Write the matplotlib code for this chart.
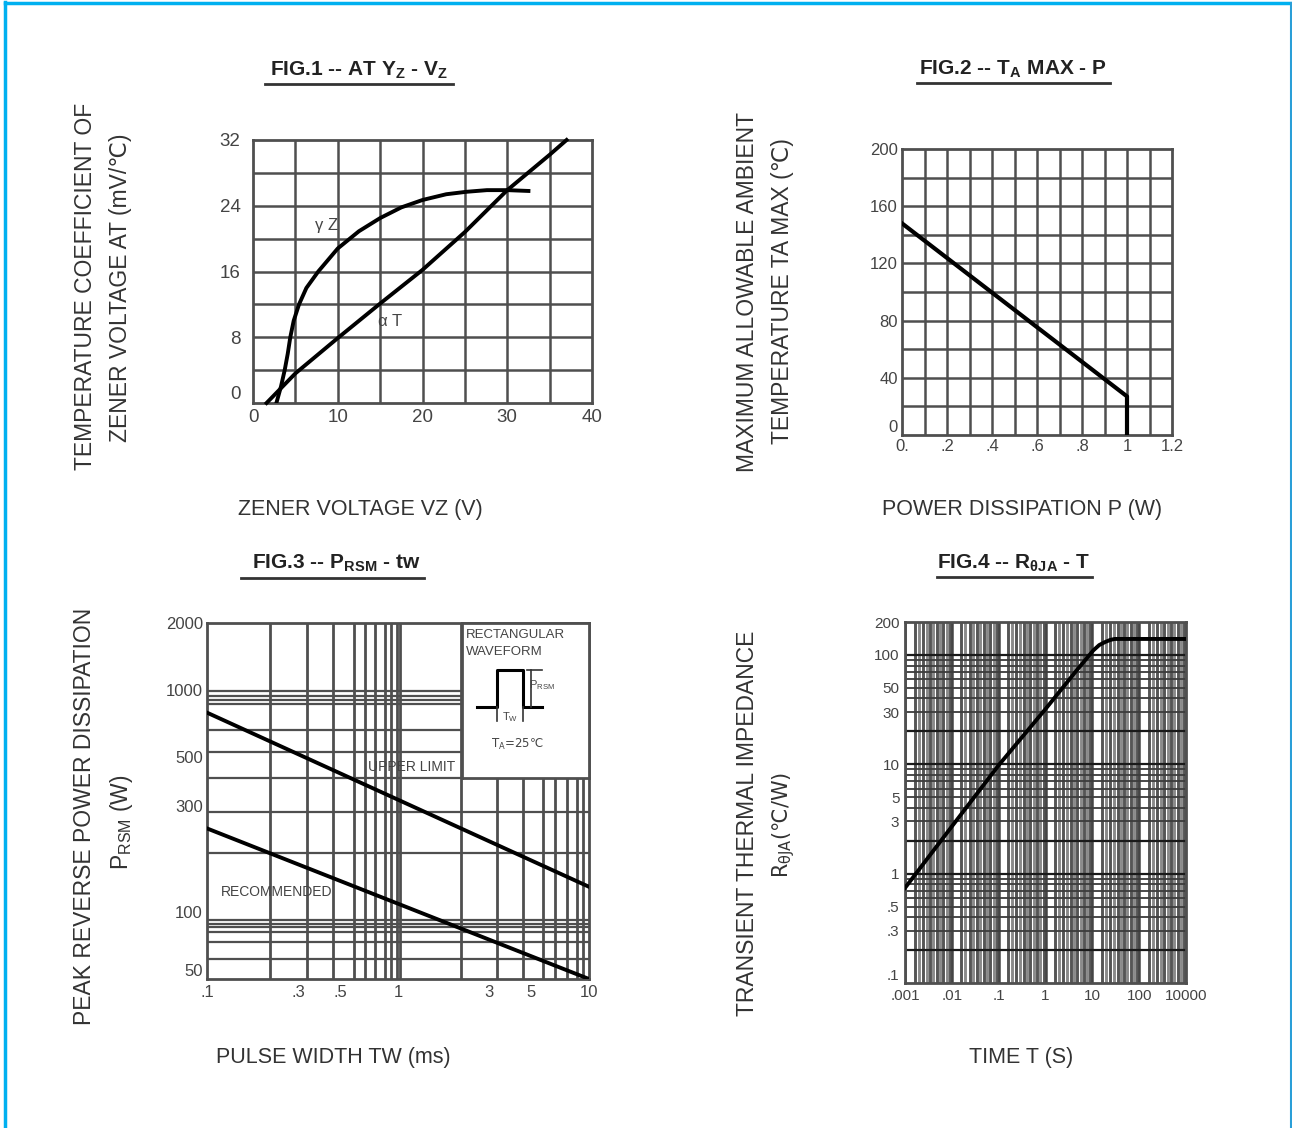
import numpy as np
import matplotlib
matplotlib.use('Agg')
import matplotlib.pyplot as plt
from matplotlib.lines import Line2D
from matplotlib.ticker import NullLocator

plt.rcParams['font.family'] = ['Liberation Sans', 'DejaVu Sans']
plt.rcParams['mathtext.fontset'] = 'dejavusans'

# ---------------- data ----------------
# FIG.1  temperature coefficient vs zener voltage
fig1_vz_gamma = [2.76, 3.3, 3.74, 4.1, 4.4, 4.8, 5.43, 6.3, 7.7, 10, 12.5, 15, 17.5, 20, 22.8, 25.2, 27.6, 30, 32.5]
fig1_gamma = [0, 2, 4, 6, 8, 10, 12, 14, 16, 18.8, 20.9, 22.5, 23.8, 24.7, 25.4, 25.7, 25.9, 25.9, 25.8]
fig1_vz_alpha = [1.6, 5, 10, 15, 20, 25, 30, 35, 37]
fig1_alpha = [0, 3.6, 7.9, 12.1, 16.2, 20.8, 25.9, 30.2, 32]
fig1_xticks = [0, 10, 20, 30, 40]
fig1_yticks = [0, 8, 16, 24, 32]

# FIG.2  max ambient temperature vs power dissipation
fig2_p = [0.0, 1.0, 1.0]
fig2_t = [148, 27, 0]
fig2_xticks = [0, 0.2, 0.4, 0.6, 0.8, 1.0, 1.2]
fig2_xlabels = ["0.", ".2", ".4", ".6", ".8", "1", "1.2"]
fig2_yticks = [0, 40, 80, 120, 160, 200]

# FIG.3  peak reverse power vs pulse width
fig3_tw = [0.1, 10]
fig3_upper = [790, 130]
fig3_recommended = [238, 50]
fig3_xticks = [0.1, 0.3, 0.5, 1, 3, 5, 10]
fig3_xlabels = [".1", ".3", ".5", "1", "3", "5", "10"]
fig3_yticks = [50, 100, 300, 500, 1000, 2000]
fig3_ylabels = ["50", "100", "300", "500", "1000", "2000"]
fig3_vgrid = [0.215, 0.333, 0.457, 0.589, 0.672, 0.758, 0.855, 0.916, 0.985, 1.024,
              2.15, 3.29, 4.51, 5.74, 6.64, 7.64, 8.62, 9.3]
fig3_hgrid = [985, 940, 900, 862, 661, 527, 403, 283, 184, 92, 88, 86, 81.6, 73.6, 61.3]

# FIG.4  transient thermal impedance vs time
fig4_t = [0.001, 0.01, 0.1, 1, 4.6, 10.5, 14, 18.6, 24, 30, 1000]
fig4_r = [0.74, 2.7, 9.8, 32, 72, 110, 123, 131, 137, 140, 140]
fig4_xticks = [0.001, 0.01, 0.1, 1, 10, 100, 1000]
fig4_xlabels = [".001", ".01", ".1", "1", "10", "100", "10000"]
fig4_yticks = [0.1, 0.3, 0.5, 1, 3, 5, 10, 30, 50, 100, 200]
fig4_ylabels = [".1", ".3", ".5", "1", "3", "5", "10", "30", "50", "100", "200"]

# ---------------- layout helpers ----------------
W, H = 1292, 1128
fig = plt.figure(figsize=(W / 100, H / 100), dpi=100)
TXT = '#333333'
GRID = '#4f4f4f'


def rect(l, t, r, b):
    return [l / W, 1 - b / H, (r - l) / W, (b - t) / H]


def fx(px):
    return px / W


def fy(py):
    return 1 - py / H


def title(cx, cy, s, x0, x1, uy):
    fig.text(fx(cx), fy(cy), s, ha='center', va='center', fontsize=15,
             fontweight='bold', color='#222222')
    fig.add_artist(Line2D([fx(x0), fx(x1)], [fy(uy), fy(uy)], color='#333333', lw=2))


def vlabel(s, cx, cy, size=16.5, **kw):
    fig.text(fx(cx), fy(cy), s, rotation=90, ha='center', va='center',
             fontsize=size, color=TXT, **kw)


def hlabel(s, cx, cy, size=15.5):
    fig.text(fx(cx), fy(cy), s, ha='center', va='center', fontsize=size, color=TXT)


def style(ax, size, xpad, ypad):
    ax.tick_params(which='both', length=0, labelsize=size, labelcolor='#444444')
    ax.tick_params(axis='x', pad=xpad)
    ax.tick_params(axis='y', pad=ypad)
    for sp in ax.spines.values():
        sp.set_color(GRID)
        sp.set_linewidth(2)
    # the lowest y label sits slightly above the bottom edge in the reference
    ax.yaxis.get_major_ticks()[0].label1.set_va('bottom')


# ---------------- FIG.1 ----------------
ax1 = fig.add_axes(rect(253, 140, 592, 403))
ax1.set_xlim(0, 40)
ax1.set_ylim(0, 32)
for v in np.arange(5, 40, 5):
    ax1.axvline(v, color=GRID, lw=1.8, zorder=1)
for v in np.arange(4, 32, 4):
    ax1.axhline(v, color=GRID, lw=1.8, zorder=1)
ax1.plot(fig1_vz_gamma, fig1_gamma, color='black', lw=2.8, zorder=3)
ax1.plot(fig1_vz_alpha, fig1_alpha, color='black', lw=2.8, zorder=3, clip_on=False)
ax1.text(8.7, 21.6, "γ Z", fontsize=12, color='#444444', va='center', ha='center')
ax1.text(16.2, 9.9, "α T", fontsize=12, color='#444444', va='center', ha='center')
ax1.set_xticks(fig1_xticks)
ax1.set_xticklabels([str(v) for v in fig1_xticks])
ax1.set_yticks(fig1_yticks)
ax1.set_yticklabels([str(v) for v in fig1_yticks])
style(ax1, 13.5, 4, 9)

title(359, 70, r"FIG.1 -- AT Y$_\mathregular{Z}$ - V$_\mathregular{Z}$", 265, 453, 83.5)
vlabel("TEMPERATURE COEFFICIENT OF", 86, 286)
vlabel("ZENER VOLTAGE AT (mV/℃)", 121, 288)
hlabel("ZENER VOLTAGE VZ (V)", 360, 510)

# ---------------- FIG.2 ----------------
ax2 = fig.add_axes(rect(902, 149, 1172, 435))
ax2.set_xlim(0, 1.2)
ax2.set_ylim(0, 200)
for v in np.arange(1, 12) * 0.1:
    ax2.axvline(v, color=GRID, lw=1.8, zorder=1)
for v in np.arange(20, 200, 20):
    ax2.axhline(v, color=GRID, lw=1.8, zorder=1)
ax2.plot(fig2_p, fig2_t, color='black', lw=3, zorder=3)
ax2.set_xticks(fig2_xticks)
ax2.set_xticklabels(fig2_xlabels)
ax2.set_yticks(fig2_yticks)
ax2.set_yticklabels([str(v) for v in fig2_yticks])
style(ax2, 12, 3, 3)

title(1013, 69, r"FIG.2 -- T$_\mathregular{A}$ MAX - P", 917, 1110, 82.5)
vlabel("MAXIMUM ALLOWABLE AMBIENT", 748, 292)
vlabel("TEMPERATURE TA MAX (℃)", 783, 291)
hlabel("POWER DISSIPATION P (W)", 1022, 510)

# ---------------- FIG.3 ----------------
ax3 = fig.add_axes(rect(207, 623, 589, 979))
ax3.set_xscale('log')
ax3.set_yscale('log')
ax3.set_xlim(0.1, 10)
ax3.set_ylim(50, 2000)
for v in fig3_vgrid:
    ax3.axvline(v, color=GRID, lw=2, zorder=1)
for v in fig3_hgrid:
    ax3.axhline(v, color=GRID, lw=1.6, zorder=1)
ax3.plot(fig3_tw, fig3_upper, color='black', lw=2.8, zorder=3)
ax3.plot(fig3_tw, fig3_recommended, color='black', lw=2.8, zorder=3)
ax3.text(0.70, 449, "UPPER LIMIT", fontsize=10, color='#444444', va='center', ha='left', zorder=2)
ax3.text(0.118, 123, "RECOMMENDED", fontsize=10, color='#444444', va='center', ha='left', zorder=2)
ax3.set_xticks(fig3_xticks)
ax3.set_xticklabels(fig3_xlabels)
ax3.set_yticks(fig3_yticks)
ax3.set_yticklabels(fig3_ylabels)
ax3.xaxis.set_minor_locator(NullLocator())
ax3.yaxis.set_minor_locator(NullLocator())
style(ax3, 12, 4, 3)

ins = ax3.inset_axes([0.667, 0.565, 0.333, 0.435])
ins.set_xlim(0, 1)
ins.set_ylim(0, 1)
ins.set_xticks([])
ins.set_yticks([])
ins.set_facecolor('white')
for sp in ins.spines.values():
    sp.set_color(GRID)
    sp.set_linewidth(2)
ins.text(0.03, 0.923, "RECTANGULAR", fontsize=9.5, color='#444444', va='center', ha='left')
ins.text(0.03, 0.813, "WAVEFORM", fontsize=9.5, color='#444444', va='center', ha='left')
ins.plot([0.1225, 0.28, 0.28, 0.479, 0.479, 0.628], [0.456, 0.456, 0.697, 0.697, 0.456, 0.456],
         color='black', lw=2.2)
ins.plot([0.542, 0.542], [0.456, 0.697], color='#333333', lw=1.2)
ins.plot([0.516, 0.629], [0.697, 0.697], color='#333333', lw=1.2)
ins.plot([0.28, 0.28], [0.456, 0.37], color='#333333', lw=1.2)
ins.plot([0.479, 0.479], [0.456, 0.37], color='#333333', lw=1.2)
ins.text(0.525, 0.60, r"P$_\mathregular{RSM}$", fontsize=8, color='#444444', va='center', ha='left')
ins.text(0.38, 0.395, r"T$_\mathregular{W}$", fontsize=8, color='#444444', va='center', ha='center')
ins.text(0.435, 0.213, r"T$_\mathregular{A}$=25℃", fontsize=8.5, color='#444444', va='center',
         ha='center', family='DejaVu Sans')

title(336, 563, r"FIG.3 -- P$_\mathregular{RSM}$ - tw", 241, 424, 577.5)
vlabel("PEAK REVERSE POWER DISSIPATION", 85, 816)
vlabel(r"P$_\mathregular{RSM}$ (W)", 122, 822)
hlabel("PULSE WIDTH TW (ms)", 333, 1057)

# ---------------- FIG.4 ----------------
ax4 = fig.add_axes(rect(905, 622, 1186, 983))
ax4.set_xscale('log')
ax4.set_yscale('log')
ax4.set_xlim(0.001, 1000)
ax4.set_ylim(0.1, 200)
subs_v = [1.6, 1.95, 2.4, 2.9, 3.45, 4.05, 4.75, 5.6, 6.6, 7.8, 9.1]
for d in range(-3, 3):
    for i, s in enumerate(subs_v):
        ax4.axvline(s * 10.0 ** d, color='#555555' if i % 2 == 0 else '#8a8a8a', lw=2.1, zorder=1)
    ax4.axvline(10.0 ** d, color='#444444', lw=1.8, zorder=1)
for d in range(-1, 3):
    for s in range(1, 10):
        v = s * 10.0 ** d
        if 0.1 < v < 200:
            dark = s in (1, 2)
            ax4.axhline(v, color='#1a1a1a' if dark else '#3c3c3c', lw=1.6 if dark else 1.3, zorder=1.5)
ax4.plot(fig4_t, fig4_r, color='black', lw=2.8, zorder=3)
ax4.set_xticks(fig4_xticks)
ax4.set_xticklabels(fig4_xlabels)
ax4.set_yticks(fig4_yticks)
ax4.set_yticklabels(fig4_ylabels)
ax4.xaxis.set_minor_locator(NullLocator())
ax4.yaxis.set_minor_locator(NullLocator())
style(ax4, 11, 4, 4)

title(1014, 563, r"FIG.4 -- R$_\mathregular{θJA}$ - T", 937, 1092, 577)
vlabel("TRANSIENT THERMAL IMPEDANCE", 748, 823)
vlabel(r"R$_\mathregular{θJA}$(℃/W)", 784, 825, size=15, family='DejaVu Sans')
hlabel("TIME T (S)", 1021, 1057)

# ---------------- page border ----------------
fig.add_artist(Line2D([fx(5), fx(5)], [0, fy(2)], color='#00b0f0', lw=2.5))
fig.add_artist(Line2D([fx(5), fx(1291)], [fy(3), fy(3)], color='#00b0f0', lw=2.5))
fig.add_artist(Line2D([fx(1290.5), fx(1290.5)], [0, fy(3)], color='#2a9fd8', lw=1.5))

fig.savefig('out.png', dpi=100, facecolor='white')
